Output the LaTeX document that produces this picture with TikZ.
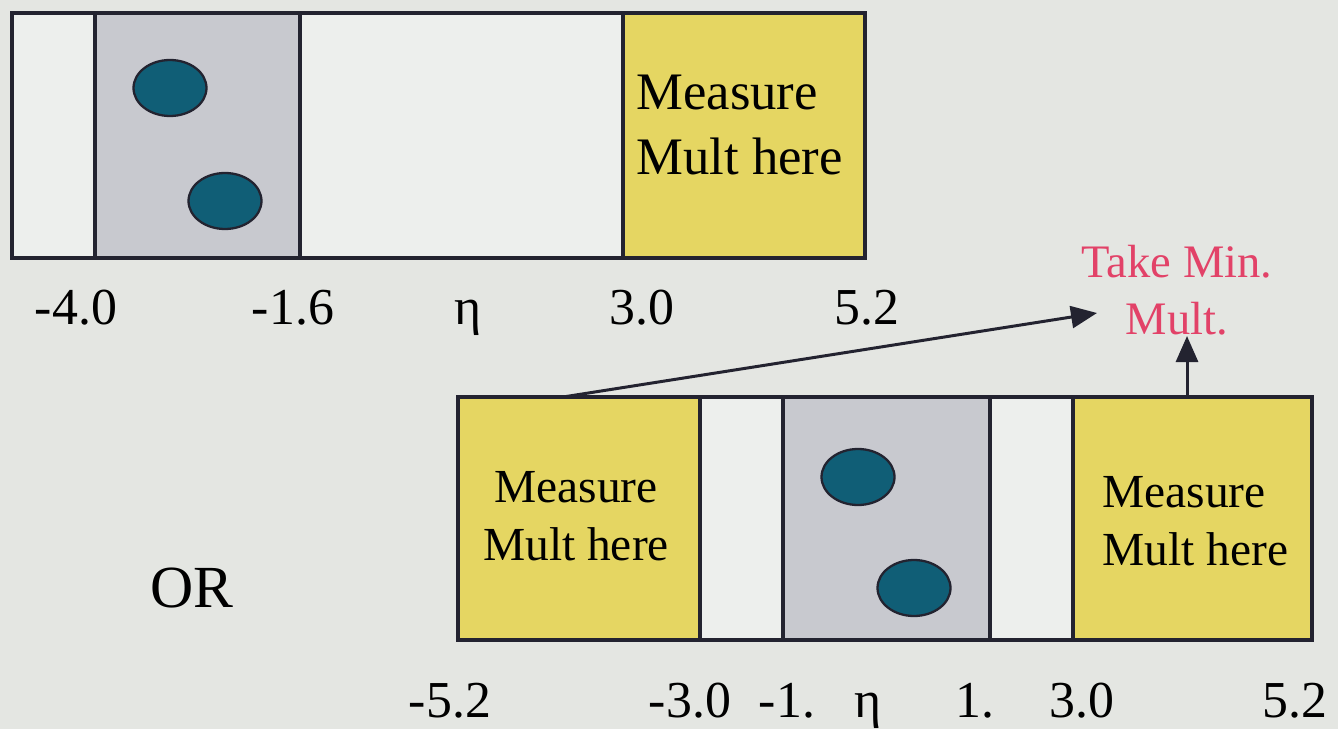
\documentclass[tikz,border=0pt]{standalone}
\usepackage{fontspec}
\setmainfont{Liberation Serif}
\usetikzlibrary{shapes.geometric,arrows.meta}
\definecolor{bgc}{RGB}{228,230,226}
\definecolor{lanec}{RGB}{237,239,237}
\definecolor{greyc}{RGB}{200,201,207}
\definecolor{yelc}{RGB}{229,214,98}
\definecolor{blobc}{RGB}{16,94,118}
\definecolor{redc}{RGB}{226,66,104}
\definecolor{linec}{RGB}{35,35,48}
\begin{document}
\begin{tikzpicture}[x=0.02cm,y=-0.02cm,
  cell/.style={draw=linec,line width=1.8pt},
  blob/.style={ellipse,draw=linec,line width=1.3pt,fill=blobc,inner sep=0pt,minimum width=1.46cm,minimum height=1.12cm},
  tick/.style={anchor=base,inner sep=0pt,font=\fontsize{29.5}{34}\selectfont},
  arr/.style={draw=linec,line width=1.7pt,-{Triangle[length=0.52cm,width=0.44cm]}}]
\fill[bgc] (0,0) rectangle (1338,729);
\useasboundingbox (0,0) rectangle (1338,729);
% upper strip
\draw[cell,fill=lanec] (12,13) rectangle (95,258);
\draw[cell,fill=greyc] (95,13) rectangle (300,258);
\draw[cell,fill=lanec] (300,13) rectangle (623,258);
\draw[cell,fill=yelc] (623,13) rectangle (865,258);
\node[blob] (b1) at (170,88) {};
\node[blob] (b2) at (225,201) {};
\node[anchor=base west,align=left,inner sep=0pt,font=\fontsize{30}{37}\selectfont] (m1) at (636,175) {Measure\\Mult here};
\node[tick] (u1) at (76,325) {-4.0};
\node[tick] (u2) at (293,325) {-1.6};
\node[tick] (u3) at (468,325) {η};
\node[tick] (u4) at (642,325) {3.0};
\node[tick] (u5) at (867,325) {5.2};
% lower strip
\draw[cell,fill=yelc] (458,397) rectangle (700,640);
\draw[cell,fill=lanec] (700,397) rectangle (783,640);
\draw[cell,fill=greyc] (783,397) rectangle (990,640);
\draw[cell,fill=lanec] (990,397) rectangle (1073,640);
\draw[cell,fill=yelc] (1073,397) rectangle (1312,640);
\node[blob] (b3) at (858,477) {};
\node[blob] (b4) at (914,588) {};
\node[anchor=base,align=center,inner sep=0pt,font=\fontsize{27}{32.5}\selectfont] (m2) at (576,560) {Measure\\Mult here};
\node[anchor=base west,align=left,inner sep=0pt,font=\fontsize{27}{33}\selectfont] (m3) at (1102,565) {Measure\\Mult here};
\node[tick] (d1) at (450,717) {-5.2};
\node[tick] (d2) at (690,717) {-3.0};
\node[tick] (d3) at (787,717) {-1.};
\node[tick] (d4) at (868,717) {η};
\node[tick] (d5) at (975,717) {1.};
\node[tick] (d6) at (1082,717) {3.0};
\node[tick] (d7) at (1295,717) {5.2};
\node[anchor=base,inner sep=0pt,font=\fontsize{34}{40}\selectfont] (or) at (192,607) {OR};
% result
\node[anchor=base,align=center,inner sep=0pt,text=redc,font=\fontsize{26.5}{33}\selectfont] (take) at (1177,335) {Take Min.\\Mult.};
\coordinate (s1) at (563,397);
\coordinate (s2) at (1187,397);
\coordinate (t1) at (1097,313);
\draw[arr] (s1) -- (t1);
\draw[arr] (s2) -- (s2 |- take.south);
\end{tikzpicture}
\end{document}
